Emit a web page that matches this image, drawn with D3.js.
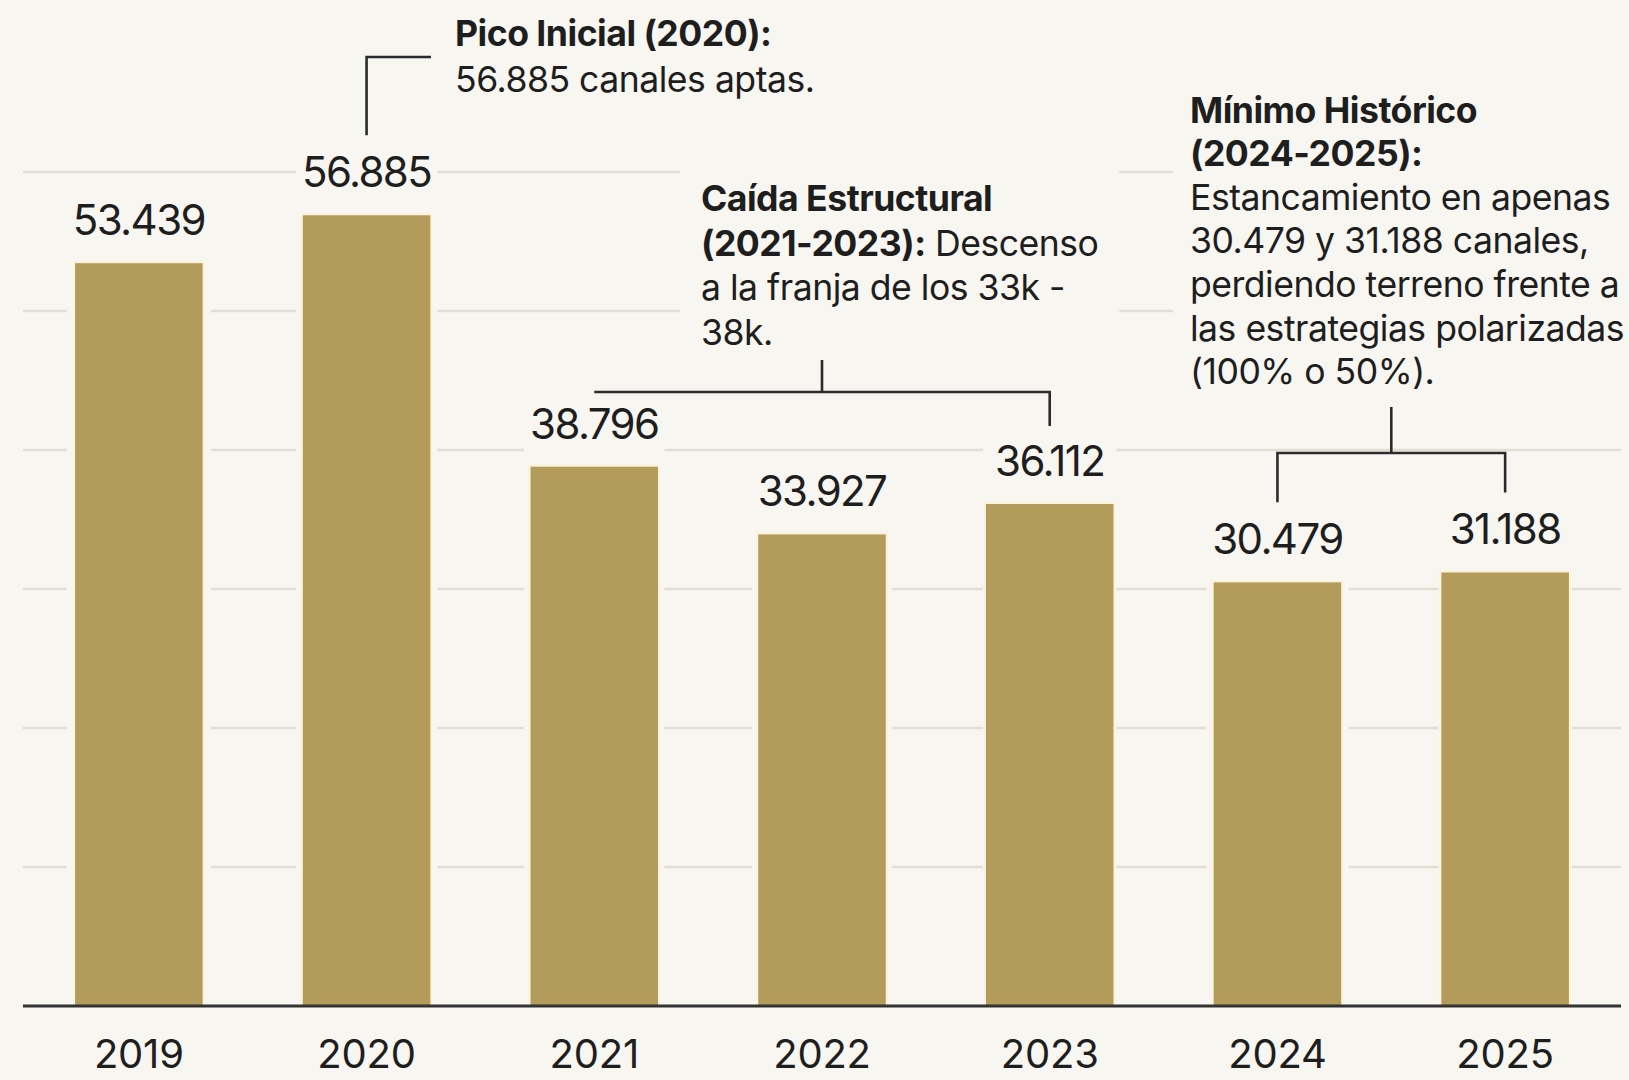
<!DOCTYPE html>
<html>
<head>
<meta charset="utf-8">
<script src="https://cdn.jsdelivr.net/npm/d3@7"></script>
<style>
  html, body { margin: 0; padding: 0; background: #f8f6f1; }
  svg { display: block; }
  text { font-family: Inter, "Noto Sans", sans-serif; fill: #1e1e1e; }
</style>
</head>
<body>
<svg id="chart" width="1629" height="1080"></svg>
<script>
// ---- data ----
const years = ["2019", "2020", "2021", "2022", "2023", "2024", "2025"];
const values = [53439, 56885, 38796, 33927, 36112, 30479, 31188];
const gridTicks = [10000, 20000, 30000, 40000, 50000, 60000];

const picoLines = [
  [{t: "Pico Inicial (2020):", b: true}],
  [{t: "56.885 canales aptas.", b: false}]
];
const caidaLines = [
  [{t: "Caída Estructural", b: true}],
  [{t: "(2021-2023):", b: true}, {t: " Descenso", b: false}],
  [{t: "a la franja de los 33k -", b: false}],
  [{t: "38k.", b: false}]
];
const minimoLines = [
  [{t: "Mínimo Histórico", b: true}],
  [{t: "(2024-2025):", b: true}],
  [{t: "Estancamiento en apenas", b: false}],
  [{t: "30.479 y 31.188 canales,", b: false}],
  [{t: "perdiendo terreno frente a", b: false}],
  [{t: "las estrategias polarizadas", b: false}],
  [{t: "(100% o 50%).", b: false}]
];

// ---- setup ----
const W = 1629, H = 1080;
const BG = "#f8f6f1", BAR = "#b39b5b", GRID = "#e1ded6", INK = "#2b2b2b";
const svg = d3.select("#chart");
svg.append("rect").attr("width", W).attr("height", H).attr("fill", BG);

const x = d3.scaleBand().domain(years).range([25, 1619]).paddingInner(0.44).paddingOuter(0.22);
const y = d3.scaleLinear().domain([0, 60000]).range([1006, 172]);
const fmt = d3.formatLocale({decimal: ",", thousands: ".", grouping: [3], currency: ["", ""]}).format(",d");
const cx = d => x(d) + x.bandwidth() / 2;
const data = years.map((yr, i) => ({year: yr, value: values[i]}));

// gridlines
const gGrid = svg.append("g");
gGrid.selectAll("line").data(gridTicks).join("line")
  .attr("x1", 23).attr("x2", 1621)
  .attr("y1", d => y(d)).attr("y2", d => y(d))
  .attr("stroke", GRID).attr("stroke-width", 2.5);

// layers
const gMask = svg.append("g");
const gBars = svg.append("g");
const gLabels = svg.append("g");
const gAnnot = svg.append("g");

// value labels
const labels = gLabels.selectAll("text").data(data).join("text")
  .attr("x", d => cx(d.year))
  .attr("y", d => y(d.value) - 28)
  .attr("text-anchor", "middle")
  .attr("font-size", 42)
  .attr("letter-spacing", -1.6)
  .text(d => fmt(d.value));

// background masks behind labels (hide gridlines from label to bar)
labels.each(function(d) {
  const bb = this.getBBox();
  const w = Math.max(bb.width + 12, x.bandwidth() + 6);
  gMask.append("rect")
    .attr("x", cx(d.year) - w / 2)
    .attr("y", bb.y - 2)
    .attr("width", w)
    .attr("height", y(0) - bb.y)
    .attr("fill", BG);
});

// bars with subtle light halo
gBars.selectAll("rect.halo").data(data).join("rect").attr("class", "halo")
  .attr("x", d => x(d.year) - 2).attr("width", x.bandwidth() + 4)
  .attr("y", d => y(d.value) - 2).attr("height", d => y(0) - y(d.value) + 2)
  .attr("fill", "#fcf3dc");
gBars.selectAll("rect.bar").data(data).join("rect").attr("class", "bar")
  .attr("x", d => x(d.year)).attr("width", x.bandwidth())
  .attr("y", d => y(d.value)).attr("height", d => y(0) - y(d.value))
  .attr("fill", BAR);

// axis baseline
svg.append("line").attr("x1", 23).attr("x2", 1621)
  .attr("y1", y(0)).attr("y2", y(0))
  .attr("stroke", "#333").attr("stroke-width", 3);

// year labels
svg.append("g").selectAll("text").data(years).join("text")
  .attr("x", d => cx(d)).attr("y", 1068)
  .attr("text-anchor", "middle")
  .attr("font-size", 40)
  .attr("letter-spacing", -0.2)
  .text(d => d);

// annotation text blocks
function block(lines, x0, y0, lh, pad) {
  const g = gAnnot.append("g");
  const t = g.append("text").attr("font-size", 35.6).attr("letter-spacing", -0.5);
  lines.forEach((segs, i) => {
    const line = t.append("tspan").attr("x", x0).attr("y", y0 + i * lh);
    segs.forEach((s, j) => {
      const ts = j === 0 ? line : t.append("tspan");
      ts.attr("font-weight", s.b ? 700 : 400).text(s.t);
    });
  });
  if (pad) {
    const bb = t.node().getBBox();
    g.insert("rect", "text")
      .attr("x", bb.x - pad[0]).attr("y", bb.y - pad[1])
      .attr("width", pad[2] != null ? pad[2] - (bb.x - pad[0]) : bb.width + 2 * pad[0])
      .attr("height", bb.height + 2 * pad[1])
      .attr("fill", BG);
  }
  return g;
}
block(picoLines, 455, 45.5, 46.5, null);
block(caidaLines, 701, 211, 44.6, [21, 16]);
block(minimoLines, 1190, 122.6, 43.6, [17, 8, W]);

// connectors
const conn = gAnnot.append("g").attr("fill", "none").attr("stroke", INK).attr("stroke-width", 2.6);
const v2020 = values[years.indexOf("2020")];
conn.append("path").attr("d", d3.line()([[cx("2020"), y(v2020) - 80], [cx("2020"), 57], [431, 57]]));

const v2023 = values[years.indexOf("2023")];
const yC = 392;
conn.append("path").attr("d", d3.line()([[cx("2021"), yC], [cx("2023"), yC], [cx("2023"), y(v2023) - 78]]));
conn.append("path").attr("d", d3.line()([[cx("2022"), 360], [cx("2022"), yC]]));

const v2024 = values[years.indexOf("2024")], v2025 = values[years.indexOf("2025")];
const yM = 453;
const mid = (cx("2024") + cx("2025")) / 2;
conn.append("path").attr("d", d3.line()([[cx("2024"), y(v2024) - 80], [cx("2024"), yM], [cx("2025"), yM], [cx("2025"), y(v2025) - 80]]));
conn.append("path").attr("d", d3.line()([[mid, 407], [mid, yM]]));
</script>
</body>
</html>
